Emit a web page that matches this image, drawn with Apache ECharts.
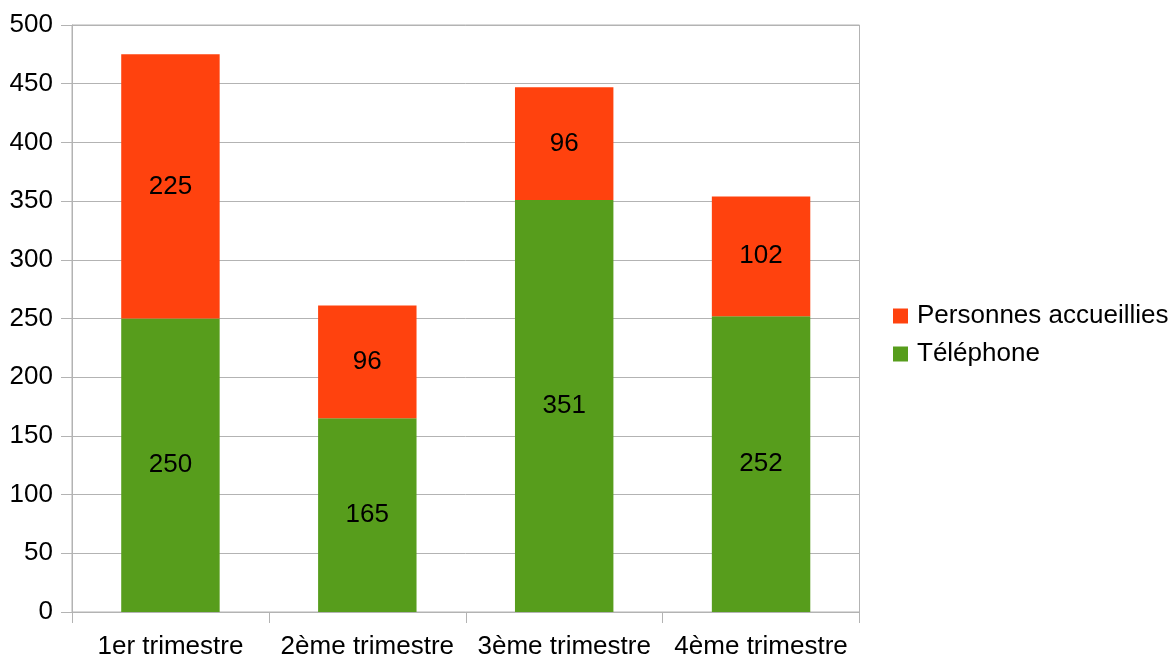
<!DOCTYPE html>
<html>
<head>
<meta charset="utf-8">
<script src="https://cdn.jsdelivr.net/npm/echarts@6/dist/echarts.min.js"></script>
<style>
html,body{margin:0;padding:0;background:#fff;}
#chart{width:1172px;height:657px;}
</style>
</head>
<body>
<div id="chart"></div>
<script>
const categories = ['1er trimestre', '2ème trimestre', '3ème trimestre', '4ème trimestre'];
const telephone = [250, 165, 351, 252];
const personnes = [225, 96, 96, 102];
const seriesNames = ['Téléphone', 'Personnes accueillies'];
const legendOrder = ['Personnes accueillies', 'Téléphone'];

const FONT = '"Liberation Sans", Arial, sans-serif';
const GRID = '#b3b3b3';

const chart = echarts.init(document.getElementById('chart'), null, {renderer: 'canvas'});
chart.setOption({
  animation: false,
  backgroundColor: '#ffffff',
  textStyle: {fontFamily: FONT},
  grid: {
    left: 72, right: 312.5, top: 25, bottom: 45,
    outerBoundsMode: 'none',
    containLabel: false,
    show: true, borderColor: GRID, borderWidth: 1, backgroundColor: 'transparent'
  },
  legend: {
    orient: 'vertical',
    left: 893,
    top: 303,
    padding: 0,
    icon: 'rect',
    itemWidth: 15,
    itemHeight: 15,
    itemGap: 12,
    data: legendOrder,
    textStyle: {fontFamily: FONT, fontSize: 26, color: '#000', padding: [0, 0, 0, 4]}
  },
  xAxis: {
    type: 'category',
    data: categories,
    boundaryGap: true,
    axisLine: {show: true, lineStyle: {color: GRID, width: 1}},
    axisTick: {show: true, alignWithLabel: false, length: 11, lineStyle: {color: GRID}},
    axisLabel: {fontFamily: FONT, fontSize: 26, color: '#000', margin: 22, interval: 0},
    splitLine: {show: false}
  },
  yAxis: {
    type: 'value',
    min: 0, max: 500, interval: 50,
    axisLine: {show: true, lineStyle: {color: GRID, width: 1}},
    axisTick: {show: true, length: 11, lineStyle: {color: GRID}},
    axisLabel: {fontFamily: FONT, fontSize: 26, color: '#000', margin: 19},
    splitLine: {show: true, lineStyle: {color: GRID, width: 1}}
  },
  series: [
    {
      name: seriesNames[0],
      type: 'bar',
      stack: 'total',
      barWidth: '50%',
      data: telephone,
      itemStyle: {color: '#579d1c'},
      label: {show: true, position: 'inside', fontFamily: FONT, fontSize: 26, color: '#000'}
    },
    {
      name: seriesNames[1],
      type: 'bar',
      stack: 'total',
      barWidth: '50%',
      data: personnes,
      itemStyle: {color: '#ff420e'},
      label: {show: true, position: 'inside', fontFamily: FONT, fontSize: 26, color: '#000'}
    }
  ]
});
</script>
</body>
</html>
